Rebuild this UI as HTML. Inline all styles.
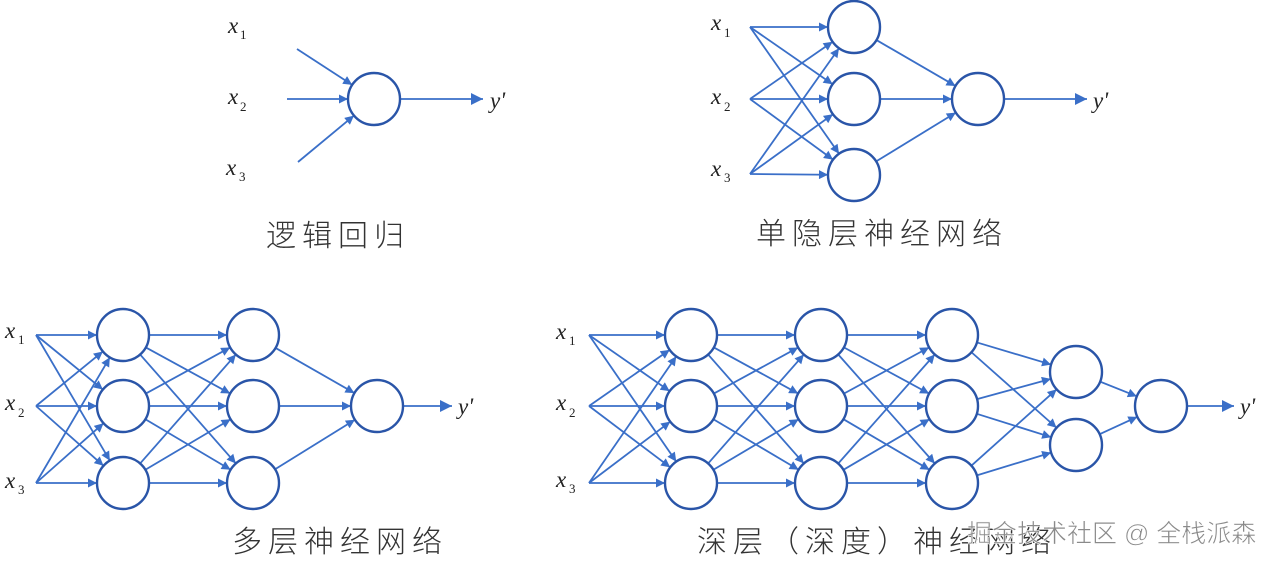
<!DOCTYPE html>
<html><head><meta charset="utf-8">
<style>
html,body{margin:0;padding:0;background:#fff;}
svg{display:block;}
.lab{font-family:"Liberation Serif",serif;font-style:italic;font-size:23px;fill:#222;}
.sub{font-family:"Liberation Serif",serif;font-size:13px;fill:#222;}
.cap{font-family:"Liberation Sans","Noto Sans CJK SC",sans-serif;font-size:30px;fill:#333;font-weight:300;letter-spacing:6px;}
.wm{font-family:"Liberation Sans","Noto Sans CJK SC",sans-serif;font-size:25px;fill:#8a8a8a;stroke:#fff;stroke-width:0.6px;}
</style></head>
<body>
<svg id="s" width="1278" height="564" viewBox="0 0 1278 564" xmlns="http://www.w3.org/2000/svg">
<defs>
<marker id="a" viewBox="0 0 10 10" refX="10" refY="5" markerWidth="14" markerHeight="9" orient="auto" markerUnits="userSpaceOnUse">
<path d="M0,0 L10,5 L0,10 z" fill="#3a6fc8"/>
</marker>
<marker id="b" viewBox="0 0 10 10" refX="10" refY="5" markerWidth="18" markerHeight="12" orient="auto" markerUnits="userSpaceOnUse">
<path d="M0,0 L10,5 L0,10 z" fill="#3a6fc8"/>
</marker>
</defs>
<g id="edges" stroke="#3a6fc8" stroke-width="1.8" fill="none"></g>
<g id="nodes" stroke="#2a55a8" stroke-width="2.4" fill="#fff"></g>

<text class="lab" x="228" y="33">x</text><text class="sub" x="240" y="39">1</text>
<text class="lab" x="228" y="104">x</text><text class="sub" x="240" y="111">2</text>
<text class="lab" x="226" y="175">x</text><text class="sub" x="239" y="181">3</text>
<text class="lab" x="490" y="108">y'</text>
<text class="cap" x="266" y="246">逻辑回归</text>

<text class="lab" x="711" y="30">x</text><text class="sub" x="724" y="37">1</text>
<text class="lab" x="711" y="104">x</text><text class="sub" x="724" y="111">2</text>
<text class="lab" x="711" y="176">x</text><text class="sub" x="724" y="182">3</text>
<text class="lab" x="1093" y="108">y'</text>
<text class="cap" x="756" y="244">单隐层神经网络</text>

<text class="lab" x="5" y="338">x</text><text class="sub" x="18" y="344">1</text>
<text class="lab" x="5" y="410">x</text><text class="sub" x="18" y="417">2</text>
<text class="lab" x="5" y="488">x</text><text class="sub" x="18" y="494">3</text>
<text class="lab" x="458" y="414">y'</text>
<text class="cap" x="232" y="552">多层神经网络</text>

<text class="lab" x="556" y="339">x</text><text class="sub" x="569" y="345">1</text>
<text class="lab" x="556" y="410">x</text><text class="sub" x="569" y="417">2</text>
<text class="lab" x="556" y="487">x</text><text class="sub" x="569" y="493">3</text>
<text class="lab" x="1240" y="414">y'</text>
<text class="cap" x="697" y="552">深层（深度）神经网络</text>
<text class="wm" x="967" y="542">掘金技术社区 @ 全栈派森</text>
</svg>
<script>
var NS="http://www.w3.org/2000/svg",E=document.getElementById("edges"),N=document.getElementById("nodes"),R=26;
function line(x1,y1,x2,y2,m){var l=document.createElementNS(NS,"line");l.setAttribute("x1",x1);l.setAttribute("y1",y1);l.setAttribute("x2",x2);l.setAttribute("y2",y2);l.setAttribute("marker-end","url(#"+(m||"a")+")");E.appendChild(l);}
function circ(x,y){var c=document.createElementNS(NS,"circle");c.setAttribute("cx",x);c.setAttribute("cy",y);c.setAttribute("r",R);N.appendChild(c);}
function toCircle(x1,y1,cx,cy){var dx=cx-x1,dy=cy-y1,d=Math.sqrt(dx*dx+dy*dy);line(x1,y1,cx-dx/d*R,cy-dy/d*R);}
function fromTo(ax,ay,cx,cy){var dx=cx-ax,dy=cy-ay,d=Math.sqrt(dx*dx+dy*dy);toCircle(ax+dx/d*R,ay+dy/d*R,cx,cy);}
circ(374,99);
toCircle(297,49,374,99);toCircle(287,99,374,99);toCircle(298,162,374,99);
line(400,99,483,99,"b");
var hy=[27,99,175],iy=[27,99,174];
hy.forEach(function(y){circ(854,y);iy.forEach(function(i){toCircle(750,i,854,y);});fromTo(854,y,978,99);});
circ(978,99);line(1004,99,1087,99,"b");
var ly=[335,406,483];
function net(ix,layers,out,outEnd){
  layers[0].ys.forEach(function(y){ly.forEach(function(i){toCircle(ix,i,layers[0].x,y);});});
  for(var k=0;k<layers.length;k++){layers[k].ys.forEach(function(y){circ(layers[k].x,y);});
    if(k>0){var p=layers[k-1],c=layers[k];p.ys.forEach(function(py){c.ys.forEach(function(cy){fromTo(p.x,py,c.x,cy);});});}}
  var L=layers[layers.length-1];L.ys.forEach(function(y){fromTo(L.x,y,out[0],out[1]);});
  circ(out[0],out[1]);line(out[0]+R,out[1],outEnd,out[1],"b");
}
net(36,[{x:123,ys:ly},{x:253,ys:ly}],[377,406],452);
net(589,[{x:691,ys:ly},{x:821,ys:ly},{x:952,ys:ly},{x:1076,ys:[372,445]}],[1161,406],1234);
</script>
</body></html>
